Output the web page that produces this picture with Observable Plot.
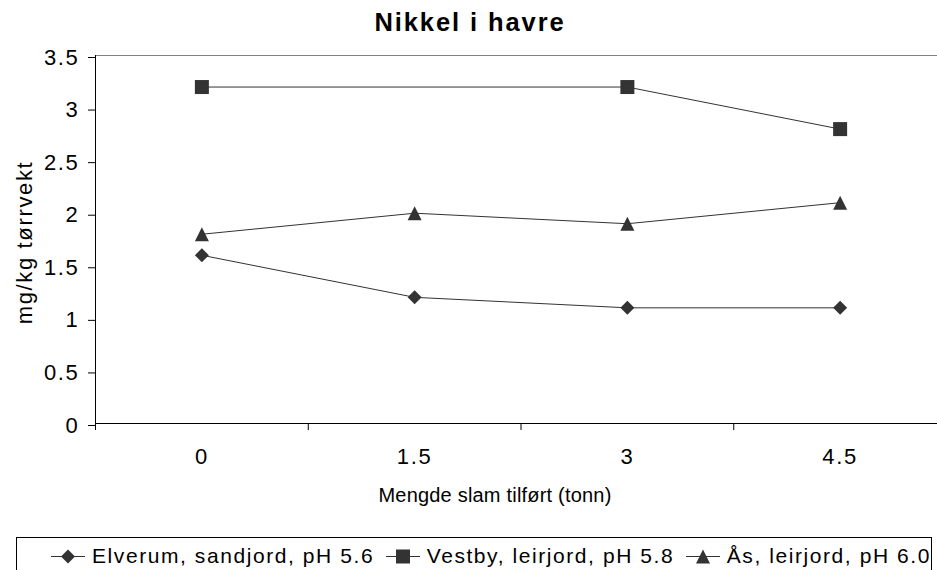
<!DOCTYPE html>
<html><head><meta charset="utf-8">
<script src="https://cdn.jsdelivr.net/npm/d3@7"></script>
<script src="https://cdn.jsdelivr.net/npm/@observablehq/plot@0.6"></script>
<style>
html,body{margin:0;padding:0;background:#fff;overflow:hidden;width:937px;height:570px;}
body{font-family:"Liberation Sans",Arial,sans-serif;color:#000;position:relative;}
#title{height:40px;box-sizing:border-box;padding-top:7px;padding-left:3px;text-align:center;font-weight:bold;font-size:25.5px;line-height:30px;letter-spacing:0.075em;}
#chart svg{display:block;}
#legend{position:absolute;left:16px;top:537px;width:916px;height:45px;box-sizing:border-box;border:1px solid #000;padding:6px 0 0 34px;display:flex;font-size:21px;letter-spacing:0.075em;white-space:nowrap;}
.item{display:flex;align-items:flex-start;height:24px;}
.item svg{display:block;margin-right:7px;}
.item span{line-height:24px;}
.gap{width:12px;}
</style>
</head><body>
<div id="title"></div>
<div id="chart"></div>
<div id="legend"></div>
<script>
const title = "Nikkel i havre";
const xLabel = "Mengde slam tilført (tonn)";
const yLabel = "mg/kg tørrvekt";
const categories = ["0", "1.5", "3", "4.5"];
const seriesNames = ["Elverum, sandjord, pH 5.6", "Vestby, leirjord, pH 5.8", "Ås, leirjord, pH 6.0"];
const elverum = [1.6, 1.2, 1.1, 1.1];
const vestby = [3.2, null, 3.2, 2.8];
const aas = [1.8, 2.0, 1.9, 2.1];
const yTicks = [0, 0.5, 1, 1.5, 2, 2.5, 3, 3.5];

const diamond = {draw(c, size) { const s = Math.sqrt(size) / 2; c.moveTo(0, -s); c.lineTo(s, 0); c.lineTo(0, s); c.lineTo(-s, 0); c.closePath(); }};
const square = {draw(c, size) { const s = Math.sqrt(size) / 2; c.moveTo(-s, -s); c.lineTo(s, -s); c.lineTo(s, s); c.lineTo(-s, s); c.closePath(); }};
const triangle = {draw(c, size) { const s = Math.sqrt(size) / 2; c.moveTo(0, -s); c.lineTo(s, s); c.lineTo(-s, s); c.closePath(); }};

const seriesValues = [elverum, vestby, aas];
const seriesSymbols = [diamond, square, triangle];
const ink = "#333";
const markR = 7.9;

const rows = seriesValues.flatMap((vals, s) => vals.map((v, i) => ({series: seriesNames[s], s, i, value: v}))).filter(d => d.value != null);

document.getElementById("title").textContent = title;

const xDomain = [-0.5, categories.length - 0.5];
const centers = d3.range(categories.length);
const boundaries = centers.map(i => i - 0.5);

const chart = Plot.plot({
  width: 937, height: 490,
  marginLeft: 95, marginRight: -9, marginTop: 15, marginBottom: 107,
  style: {fontFamily: "Liberation Sans, Arial, sans-serif", fontSize: "22px", color: "#000", background: "#fff", overflow: "visible", letterSpacing: "0.075em"},
  x: {domain: xDomain, range: [95, 946], axis: null, label: null},
  y: {domain: [0, yTicks[yTicks.length - 1]], axis: null, label: null},
  marks: [
    Plot.ruleY([yTicks[yTicks.length - 1]], {stroke: "#808080", strokeWidth: 1}),
    Plot.axisY({ticks: yTicks, tickSize: 7, tickPadding: 9, dy: 2, fontSize: 22, stroke: "#000", tickFormat: d => String(d), label: null}),
    Plot.ruleX([xDomain[0]], {stroke: "#000"}),
    Plot.ruleY([0], {stroke: "#000"}),
    Plot.axisX({ticks: boundaries, tickSize: 7, stroke: "#000", tickFormat: () => "", label: null}),
    Plot.axisX({ticks: centers, tickSize: 0, tickPadding: 25, fontSize: 22, tickFormat: i => categories[i], label: null}),
    Plot.text([yLabel], {text: d => d, frameAnchor: "left", textAnchor: "middle", lineAnchor: "middle", rotate: -90, dx: -71, dy: 3, fontSize: 22}),
    Plot.text([xLabel], {text: d => d, frameAnchor: "bottom", textAnchor: "middle", lineAnchor: "middle", dx: -26, dy: 72, fontSize: 20, style: "letter-spacing:0.01em"}),
    Plot.line(rows, {x: "i", y: "value", z: "series", stroke: ink, strokeWidth: 1}),
    ...seriesNames.map((name, s) => Plot.dot(rows.filter(d => d.s === s), {x: "i", y: "value", symbol: seriesSymbols[s], r: markR, fill: ink, stroke: "none"}))
  ]
});
document.getElementById("chart").append(chart);
// x-axis title uses slightly tighter tracking than the rest of the text
d3.select(chart).selectAll("text").filter(function() { return this.textContent === xLabel; }).style("letter-spacing", "0.01em");

// legend
const legend = d3.select("#legend");
seriesNames.forEach((name, s) => {
  if (s > 0) legend.append("div").attr("class", "gap");
  const item = legend.append("div").attr("class", "item");
  const svg = item.append("svg").attr("width", 34).attr("height", 24);
  svg.append("line").attr("x1", 0).attr("x2", 34).attr("y1", 12.5).attr("y2", 12.5).attr("stroke", ink).attr("stroke-width", 1);
  svg.append("path").attr("transform", "translate(17,12.5)").attr("fill", ink)
    .attr("d", d3.symbol().type(seriesSymbols[s]).size(Math.PI * markR * markR)());
  item.append("span").text(name);
});
</script>
</body></html>
